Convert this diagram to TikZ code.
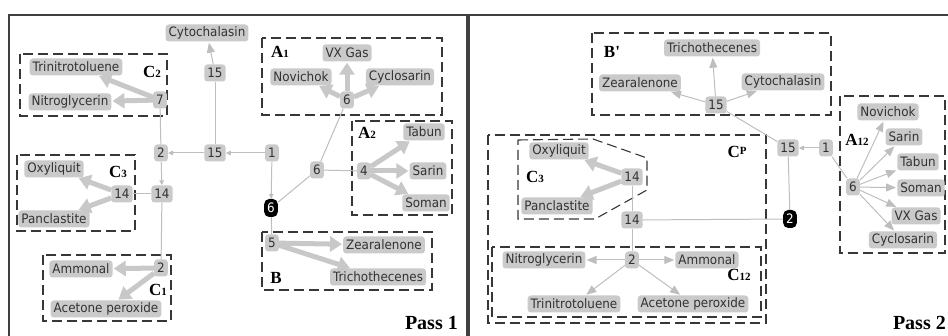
\documentclass[tikz,border=0pt]{standalone}
\usepackage{fontspec}
\usetikzlibrary{arrows.meta}
\newfontfamily\nf{DejaVu Sans}[FakeStretch=0.92]
\newfontfamily\lf{Liberation Serif}
\definecolor{nodegray}{RGB}{202,202,202}
\definecolor{txtgray}{RGB}{50,50,50}
\definecolor{linegray}{RGB}{190,190,190}
\definecolor{fatgray}{RGB}{200,200,200}
\definecolor{dashcol}{RGB}{55,55,55}
\newcommand\glab[2]{{\lf\bfseries\fontsize{17}{17}\selectfont #1{\fontsize{11}{11}\selectfont #2}}}
\tikzset{
  lab/.style={fill=nodegray, rounded corners=3pt, inner xsep=3pt, inner ysep=2pt, minimum height=17pt, text=txtgray, font=\nf\fontsize{13}{13}\selectfont},
  blk/.style={lab, fill=black, text=white, rounded corners=5pt, minimum height=18pt},
  grp/.style={draw=dashcol, line width=1.1pt, dash pattern=on 10pt off 5pt},
  frame/.style={draw=black!75, line width=1.4pt},
  thinl/.style={draw=linegray, line width=1pt},
  smarr/.style={thinl, -{Triangle[length=5pt,width=4.5pt]}},
  bigarr/.style={thinl, -{Triangle[length=10pt,width=8pt]}, shorten >=1pt},
  fat/.style={draw=fatgray, line width=5pt, -{Triangle[length=12pt,width=15pt]}, shorten >=1pt},
  glabel/.style={inner sep=0pt, text=black},
  passlab/.style={inner sep=0pt, font=\lf\bfseries\fontsize{20}{20}\selectfont}
}
\begin{document}
\begin{tikzpicture}[x=1pt,y=-1pt]
\useasboundingbox (0,0) rectangle (948,336);
\begin{scope}
\clip (0,0) rectangle (948,336);
% frames
\draw[frame] (9,15) rectangle (467,350);
\draw[frame] (469,15) rectangle (970,350);

% ===== Pass 1 group boxes =====
\draw[grp] (20,54) rectangle (167,116);
\draw[grp] (17,155) rectangle (135,231);
\draw[grp] (43,255) rectangle (171,321);
\draw[grp] (262,38) rectangle (442,115);
\draw[grp] (352,121) rectangle (452,215);
\draw[grp] (262,232) rectangle (432,290);

% ===== Pass 2 group boxes =====
\draw[grp] (592,33) rectangle (831,115);
\draw[grp] (488,135) rectangle (766,323);
\draw[grp] (518,140) -- (593,139) -- (647,158) -- (647,190) -- (595,219) -- (518,219) -- cycle;
\draw[grp] (492,247) rectangle (761,317);
\draw[grp] (840,96) rectangle (945,253);
\end{scope}

% ===== Pass 1 nodes =====
\node[lab] (cyto1) at (207,33) {Cytochalasin};
\node[lab] (n15a) at (215,73) {15};
\node[lab] (n15b) at (215,153) {15};
\node[lab] (n2a) at (161,153) {2};
\node[lab] (n1a) at (272,153) {1};
\node[blk] (b6) at (271,208) {6};
\node[lab] (n6g) at (317,170) {6};
\node[lab] (n14a) at (162,194) {14};

\node[lab] (trin1) at (76,67) {Trinitrotoluene};
\node[lab] (nitro1) at (70,102) {Nitroglycerin};
\node[lab] (n7) at (160,100) {7};
\node[glabel] (c2) at (152,72) {\glab{C}{2}};

\node[lab] (oxy1) at (54,169) {Oxyliquit};
\node[lab] (panc1) at (54,219) {Panclastite};
\node[lab] (n14b) at (122,194) {14};
\node[glabel] (c3a) at (118,172) {\glab{C}{3}};

\node[lab] (amm1) at (81,269) {Ammonal};
\node[lab] (acet1) at (106,309) {Acetone peroxide};
\node[lab] (n2b) at (161,268) {2};
\node[glabel] (c1) at (158,290) {\glab{C}{1}};

\node[lab] (vx1) at (347,53) {VX Gas};
\node[lab] (novi1) at (301,77) {Novichok};
\node[lab] (cyclo1) at (400,77) {Cyclosarin};
\node[lab] (n6b) at (347,100) {6};
\node[glabel] (a1) at (280,52) {\glab{A}{1}};

\node[lab] (tabun1) at (424,132) {Tabun};
\node[lab] (sarin1) at (428,171) {Sarin};
\node[lab] (soman1) at (426,203) {Soman};
\node[lab] (n4) at (364,171) {4};
\node[glabel] (a2) at (367,133) {\glab{A}{2}};

\node[lab] (n5) at (272,243) {5};
\node[lab] (zear1) at (384,245) {Zearalenone};
\node[lab] (tric1) at (378,277) {Trichothecenes};
\node[glabel] (bl) at (276,278) {\glab{B}{}};

\node[passlab, anchor=east] (pass1) at (458,323) {Pass 1};

% Pass 1 connectors
\draw[bigarr] (n15a) -- (cyto1);
\draw[thinl] (n15b) -- (n15a);
\draw[smarr] (n1a) -- (n15b);
\draw[smarr] (n15b) -- (n2a);
\draw[thinl] (n2a) -- (n7);
\draw[smarr] (n2a) -- (n14a);
\draw[thinl] (n14a) -- (n14b);
\draw[thinl] (n14a) -- (n2b);
\draw[smarr] (n1a) -- (b6);
\draw[thinl] (b6) -- (n6g);
\draw[thinl] (n6g) -- (n6b);
\draw[thinl] (n6g) -- (n4);
\draw[thinl] (b6) -- (n5);

\draw[fat] (n7) -- (trin1);
\draw[fat] (n7) -- (nitro1);
\draw[fat] (n14b) -- (oxy1);
\draw[fat] (n14b) -- (panc1);
\draw[fat] (n2b) -- (amm1);
\draw[fat] (n2b) -- (acet1);
\draw[fat] (n6b) -- (vx1);
\draw[fat] (n6b) -- (novi1);
\draw[fat] (n6b) -- (cyclo1);
\draw[fat] (n4) -- (tabun1);
\draw[fat] (n4) -- (sarin1);
\draw[fat] (n4) -- (soman1);
\draw[fat] (n5) -- (zear1);
\draw[fat] (n5) -- (tric1);

% ===== Pass 2 nodes =====
\node[lab] (tric2) at (712,48) {Trichothecenes};
\node[lab] (zear2) at (640,83) {Zearalenone};
\node[lab] (cyto2) at (783,82) {Cytochalasin};
\node[lab] (n15c) at (716,105) {15};
\node[glabel] (bp) at (612,52) {\glab{B'}{}};

\node[lab] (n15d) at (788,148) {15};
\node[lab] (n1b) at (826,148) {1};
\node[blk] (b2) at (790,219) {2};
\node[lab] (n14c) at (632,220) {14};
\node[lab] (n14d) at (632,177) {14};
\node[glabel] (cp) at (737,152) {{\lf\bfseries\fontsize{17}{17}\selectfont C\raisebox{3pt}{\fontsize{11}{11}\selectfont P}}};

\node[lab] (oxy2) at (559,151) {Oxyliquit};
\node[lab] (panc2) at (557,206) {Panclastite};
\node[glabel] (c3b) at (535,177) {\glab{C}{3}};

\node[lab] (nitro2) at (544,260) {Nitroglycerin};
\node[lab] (amm2) at (707,260) {Ammonal};
\node[lab] (trin2) at (574,304) {Trinitrotoluene};
\node[lab] (acet2) at (693,304) {Acetone peroxide};
\node[lab] (n2c) at (632,260) {2};
\node[glabel] (c12) at (739,275) {\glab{C}{12}};

\node[lab] (novi2) at (888,112) {Novichok};
\node[lab] (sarin2) at (904,137) {Sarin};
\node[lab] (tabun2) at (918,162) {Tabun};
\node[lab] (soman2) at (921,188) {Soman};
\node[lab] (vx2) at (916,216) {VX Gas};
\node[lab] (cyclo2) at (903,240) {Cyclosarin};
\node[lab] (n6c) at (853,187) {6};
\node[glabel] (a12) at (857,140) {\glab{A}{12}};

\node[passlab, anchor=east] (pass2) at (946,323) {Pass 2};

% Pass 2 connectors
\draw[bigarr] (n15c) -- (tric2);
\draw[bigarr] (n15c) -- (zear2);
\draw[bigarr] (n15c) -- (cyto2);
\draw[thinl] (n15d) -- (n15c);
\draw[smarr] (n1b) -- (n15d);
\draw[thinl] (n1b) -- (n6c);
\draw[thinl] (n15d) -- (b2);
\draw[thinl] (b2) -- (n14c);
\draw[thinl] (n14c) -- (n14d);
\draw[thinl] (n14c) -- (n2c);
\draw[fat] (n14d) -- (oxy2);
\draw[fat] (n14d) -- (panc2);
\draw[bigarr] (n2c) -- (nitro2);
\draw[bigarr] (n2c) -- (amm2);
\draw[bigarr] (n2c) -- (trin2);
\draw[bigarr] (n2c) -- (acet2);
\draw[bigarr] (n6c) -- (novi2);
\draw[bigarr] (n6c) -- (sarin2);
\draw[bigarr] (n6c) -- (tabun2);
\draw[bigarr] (n6c) -- (soman2);
\draw[bigarr] (n6c) -- (vx2);
\draw[bigarr] (n6c) -- (cyclo2);
\end{tikzpicture}
\end{document}
